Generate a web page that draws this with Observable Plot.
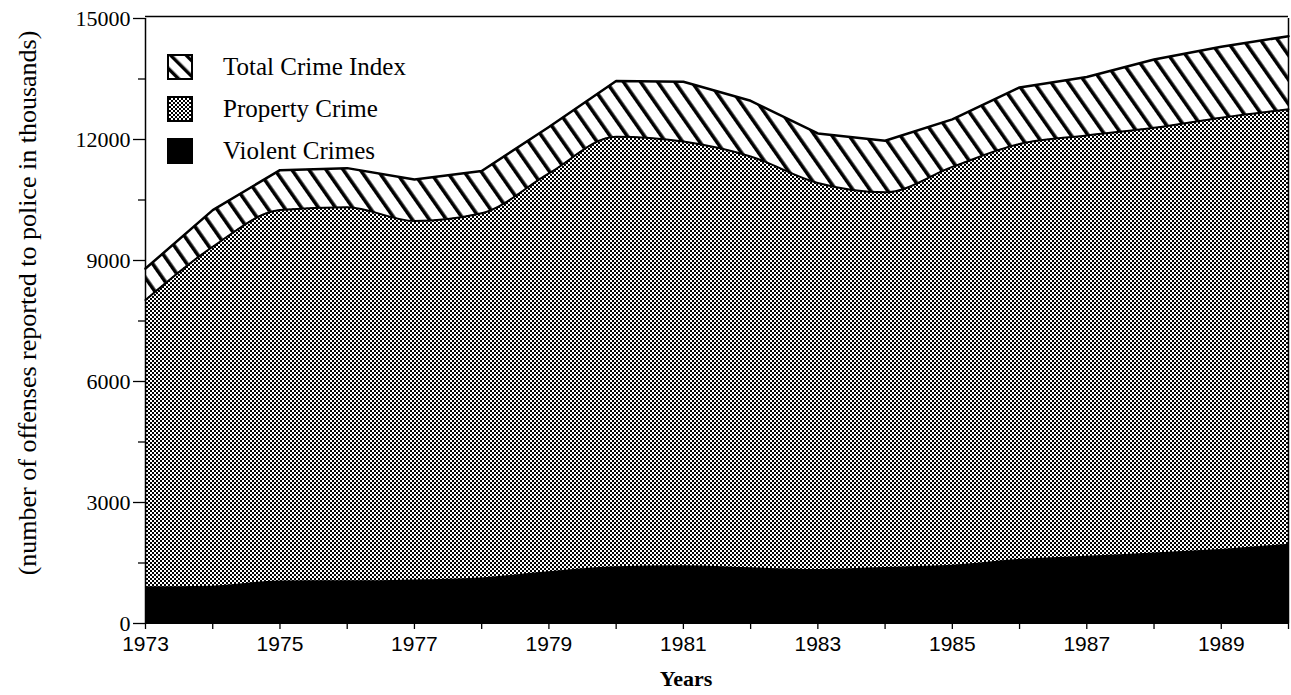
<!DOCTYPE html>
<html>
<head>
<meta charset="utf-8">
<script src="https://cdn.jsdelivr.net/npm/d3@7"></script>
<script src="https://cdn.jsdelivr.net/npm/@observablehq/plot@0.6"></script>
<style>
  html, body { margin: 0; padding: 0; background: #fff; }
  #wrap { position: relative; width: 1291px; height: 695px; }
  .legend { position: absolute; left: 167px; top: 46px; font-family: "Liberation Serif", "Times New Roman", serif; font-size: 25px; color: #000; }
  .legend .row { display: flex; align-items: center; height: 42px; }
  .legend svg { margin-right: 30px; }
</style>
</head>
<body>
<svg width="0" height="0" style="position:absolute">
  <defs>
    <pattern id="hatch" patternUnits="userSpaceOnUse" width="14" height="14" patternTransform="rotate(-35)">
      <rect x="0" y="0" width="14" height="14" fill="#fff"></rect>
      <rect x="0" y="0" width="3.6" height="14" fill="#000"></rect>
    </pattern>
    <pattern id="stipple" patternUnits="userSpaceOnUse" width="4" height="4">
      <rect x="0" y="0" width="4" height="4" fill="#fff"></rect>
      <rect x="0" y="0" width="2" height="2" fill="#000"></rect>
      <rect x="2" y="2" width="2" height="2" fill="#000"></rect>
    </pattern>
    <pattern id="hatchSmall" patternUnits="userSpaceOnUse" width="11" height="11" patternTransform="rotate(-45)">
      <rect x="0" y="0" width="11" height="11" fill="#fff"></rect>
      <rect x="0" y="0" width="3.4" height="11" fill="#000"></rect>
    </pattern>
  </defs>
</svg>
<div id="wrap"></div>
<script>
// ---- data (thousands of offenses) ----
const years = [1973,1974,1975,1976,1977,1978,1979,1980,1981,1982,1983,1984,1985,1986,1987,1988,1989,1990];
const totalCrimeIndex = [8800,10250,11240,11290,11010,11220,12310,13450,13430,12960,12150,11970,12500,13290,13550,13985,14300,14560];
const propertyCrime  = [8020,9340,10250,10320,9980,10170,11160,12070,11950,11580,10920,10690,11320,11890,12100,12290,12540,12750];
const violentCrimes  = [910,925,1055,1057,1080,1130,1280,1404,1430,1380,1340,1390,1446,1587,1669,1751,1835,1966];
const yTickValues = [0,3000,6000,9000,12000,15000];
const yMinorTicks = [1500,4500,7500,10500,13500];
const xTickLabels = ["1973","1975","1977","1979","1981","1983","1985","1987","1989"];
const seriesNames = ["Total Crime Index","Property Crime","Violent Crimes"];

const rows = years.map((year, i) => ({year, total: totalCrimeIndex[i], property: propertyCrime[i], violent: violentCrimes[i]}));

const serif = "Liberation Serif, Times New Roman, serif";
const sans = "Liberation Sans, Arial, sans-serif";

const chart = Plot.plot({
  width: 1291,
  height: 695,
  marginLeft: 145,
  marginRight: 3,
  marginTop: 18,
  marginBottom: 72,
  style: {background: "#fff", color: "#000", overflow: "visible"},
  x: {domain: [1973, 1990], axis: null},
  y: {domain: [0, 15000], axis: null},
  marks: [
    Plot.areaY(rows, {x: "year", y: "total", fill: "url(#hatch)", curve: "linear"}),
    Plot.areaY(rows, {x: "year", y: "property", fill: "url(#stipple)", curve: "monotone-x"}),
    Plot.lineY(rows, {x: "year", y: "property", stroke: "#000", strokeWidth: 2, curve: "monotone-x"}),
    Plot.areaY(rows, {x: "year", y: "violent", fill: "#000", curve: "monotone-x"}),
    Plot.lineY(rows, {x: "year", y: "total", stroke: "#000", strokeWidth: 2.5, curve: "linear"}),
    Plot.ruleX([1973], {stroke: "#000", strokeWidth: 1.5}),
    Plot.ruleX([1990], {stroke: "#000", strokeWidth: 1.5}),
    Plot.ruleY([15000], {stroke: "#000", strokeWidth: 1.5, dy: -2}),
    Plot.ruleY([0], {stroke: "#000", strokeWidth: 1}),
    Plot.axisY({ticks: yTickValues, label: null, tickSize: 12, tickPadding: 3, tickFormat: d => String(d), fontFamily: serif, fontSize: 22, strokeWidth: 1.3}),
    Plot.axisY({ticks: yMinorTicks, label: null, tickSize: 7, tickFormat: () => "", strokeWidth: 1.3}),
    Plot.axisX({ticks: years, label: null, tickSize: 6, tickPadding: 7, fontFamily: sans, fontSize: 21, strokeWidth: 1.3,
      tickFormat: d => xTickLabels.includes(String(d)) ? String(d) : ""}),
    Plot.text(["Years"], {frameAnchor: "bottom", dy: 62, dx: -31, fontFamily: serif, fontWeight: "bold", fontSize: 22}),
    Plot.text(["(number of offenses reported to police in thousands)"], {frameAnchor: "left", textAnchor: "middle", dx: -118, dy: -18, rotate: -90, fontFamily: serif, fontSize: 26})
  ]
});

const wrap = document.getElementById("wrap");
wrap.appendChild(chart);

// legend
const fills = ["url(#hatchSmall)", "url(#stipple)", "#000"];
const legend = document.createElement("div");
legend.className = "legend";
seriesNames.forEach((name, i) => {
  const row = document.createElement("div");
  row.className = "row";
  row.innerHTML = `<svg width="26" height="26"><rect x="1" y="1" width="24" height="24" fill="${fills[i]}" stroke="#000" stroke-width="2"></rect></svg><span>${name}</span>`;
  legend.appendChild(row);
});
wrap.appendChild(legend);
</script>
</body>
</html>
